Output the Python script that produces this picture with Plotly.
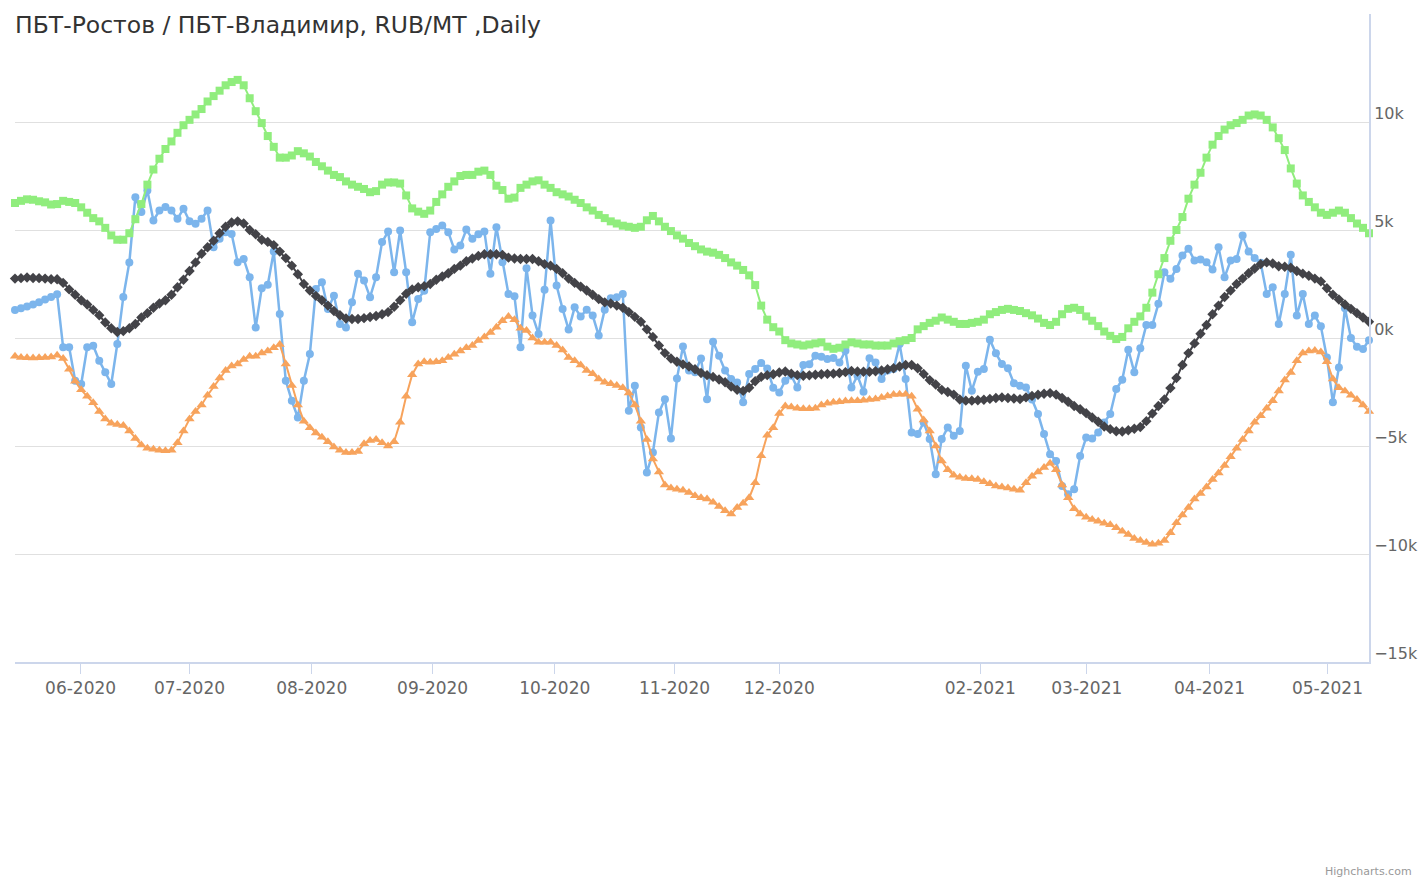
import plotly.graph_objects as go

# Ordinal sample index (trading-day positions along the axis)
month_tick_index = [10.9, 29.0, 49.3, 69.4, 89.7, 109.6, 127.0, 160.4, 178.1, 198.5, 218.1]
month_labels = ["06-2020", "07-2020", "08-2020", "09-2020", "10-2020", "11-2020",
                "12-2020", "02-2021", "03-2021", "04-2021", "05-2021"]

y_tick_vals = [-15, -10, -5, 0, 5, 10, 15]
y_tick_text = ["\u221215k", "\u221210k", "\u22125k", "0k", "5k", "10k", ""]

# Spread, thousand RUB/MT
spread = [
    1.3, 1.38, 1.46, 1.55, 1.65, 1.78, 1.9, 2.02, -0.43, -0.43,
    -1.98, -2.13, -0.43, -0.36, -1.05, -1.59, -2.13, -0.28, 1.9, 3.5,
    6.52, 5.83, 6.83, 5.44, 5.9, 6.06, 5.9, 5.52, 5.98, 5.4,
    5.29, 5.52, 5.9, 4.2, 4.59, 4.9, 4.82, 3.51, 3.66, 2.81,
    0.49, 2.3, 2.46, 4.0, 1.11, -1.98, -2.91, -3.68, -1.98, -0.74,
    2.27, 2.58, 1.34, 1.96, 0.65, 0.49, 1.65, 2.97, 2.66, 1.89,
    2.81, 4.44, 4.93, 3.04, 4.98, 3.04, 0.73, 1.8, 2.19, 4.9,
    5.05, 5.21, 4.9, 4.1, 4.28, 5.02, 4.59, 4.8, 4.93, 2.97,
    5.13, 3.51, 2.04, 1.93, -0.43, 3.23, 1.04, 0.19, 2.23, 5.44,
    2.43, 1.34, 0.39, 1.42, 1.0, 1.31, 1.04, 0.11, 1.31, 1.84,
    1.89, 2.04, -3.37, -2.21, -4.14, -6.23, -5.3, -3.45, -2.83, -4.65,
    -1.87, -0.39, -1.51, -1.59, -0.95, -2.83, -0.17, -0.82, -1.51, -1.9,
    -2.06, -2.98, -1.67, -1.44, -1.16, -1.41, -2.3, -2.52, -1.98, -1.75,
    -2.29, -1.25, -1.21, -0.82, -0.87, -0.97, -0.93, -1.13, -0.59, -2.29,
    -1.75, -2.49, -0.94, -1.13, -1.9, -1.51, -1.44, -0.28, -1.9, -4.37,
    -4.45, -3.91, -4.68, -6.31, -4.68, -4.14, -4.53, -4.3, -1.28, -2.44,
    -1.56, -1.44, -0.08, -0.71, -1.2, -1.4, -2.1, -2.21, -2.29, -2.85,
    -3.52, -4.45, -5.38, -5.69, -6.85, -7.23, -7.0, -5.46, -4.61, -4.65,
    -4.37, -3.91, -3.52, -2.36, -1.93, -0.54, -1.59, -0.48, 0.6, 0.6,
    1.58, 3.04, 2.74, 3.2, 3.82, 4.13, 3.59, 3.64, 3.51, 3.17,
    4.2, 2.81, 3.59, 3.66, 4.74, 4.0, 3.7, 3.48, 2.04, 2.35,
    0.65, 2.04, 3.85, 1.04, 2.04, 0.65, 1.04, 0.54, -0.9, -2.98,
    -1.36, 1.38, 0.0, -0.4, -0.51, -0.1,
]

middle = [
    2.75, 2.77, 2.8, 2.78, 2.77, 2.75, 2.72, 2.72, 2.55, 2.25,
    2.0, 1.75, 1.55, 1.3, 1.05, 0.72, 0.45, 0.28, 0.32, 0.45,
    0.65, 0.95, 1.15, 1.4, 1.6, 1.75, 2.0, 2.35, 2.7, 3.1,
    3.5, 3.9, 4.2, 4.5, 4.85, 5.15, 5.35, 5.4, 5.3, 5.0,
    4.8, 4.55, 4.45, 4.3, 4.0, 3.7, 3.35, 2.95, 2.5, 2.2,
    1.95, 1.75, 1.5, 1.25, 1.05, 0.9, 0.88, 0.88, 0.92, 0.97,
    1.02, 1.1, 1.2, 1.45, 1.75, 2.05, 2.25, 2.35, 2.4, 2.5,
    2.7, 2.85, 3.0, 3.2, 3.35, 3.55, 3.68, 3.8, 3.88, 3.88,
    3.88, 3.85, 3.72, 3.68, 3.66, 3.66, 3.66, 3.55, 3.42, 3.35,
    3.2, 3.0, 2.75, 2.55, 2.38, 2.2, 2.0, 1.8, 1.65, 1.6,
    1.5, 1.4, 1.2, 0.98, 0.75, 0.4, 0.05, -0.35, -0.7, -0.95,
    -1.1, -1.22, -1.32, -1.45, -1.62, -1.72, -1.8, -1.92, -2.05, -2.25,
    -2.4, -2.45, -2.3, -2.0, -1.8, -1.72, -1.68, -1.6, -1.55, -1.65,
    -1.72, -1.75, -1.73, -1.7, -1.68, -1.66, -1.65, -1.62, -1.58, -1.53,
    -1.55, -1.56, -1.56, -1.54, -1.5, -1.45, -1.4, -1.32, -1.25, -1.25,
    -1.4, -1.67, -1.95, -2.15, -2.4, -2.5, -2.62, -2.85, -2.9, -2.9,
    -2.88, -2.86, -2.82, -2.78, -2.75, -2.78, -2.8, -2.83, -2.75, -2.68,
    -2.63, -2.58, -2.55, -2.62, -2.78, -2.95, -3.15, -3.3, -3.48, -3.68,
    -3.88, -4.1, -4.22, -4.32, -4.33, -4.27, -4.2, -4.12, -3.85, -3.5,
    -3.15, -2.85, -2.32, -1.85, -1.25, -0.7, -0.25, 0.2, 0.6, 1.1,
    1.5, 1.9, 2.2, 2.5, 2.75, 3.0, 3.22, 3.42, 3.5, 3.45,
    3.32, 3.3, 3.25, 3.1, 2.98, 2.88, 2.75, 2.62, 2.3, 2.0,
    1.78, 1.55, 1.35, 1.15, 0.95, 0.75,
]

upper = [
    6.25, 6.35, 6.42, 6.4, 6.33, 6.28, 6.18, 6.2, 6.35, 6.3,
    6.25, 6.05, 5.8, 5.55, 5.4, 5.1, 4.75, 4.55, 4.55, 4.85,
    5.5, 6.2, 7.1, 7.8, 8.3, 8.75, 9.1, 9.5, 9.85, 10.1,
    10.35, 10.6, 10.95, 11.2, 11.45, 11.7, 11.85, 11.95, 11.7, 11.1,
    10.5, 9.95, 9.35, 8.85, 8.35, 8.35, 8.45, 8.65, 8.55, 8.4,
    8.15, 7.95, 7.75, 7.55, 7.45, 7.25, 7.1, 7.0, 6.9, 6.75,
    6.8, 7.1, 7.2, 7.2, 7.15, 6.6, 6.0, 5.85, 5.75, 5.9,
    6.3, 6.65, 7.0, 7.25, 7.5, 7.55, 7.55, 7.7, 7.75, 7.55,
    7.05, 6.85, 6.45, 6.5, 6.95, 7.1, 7.25, 7.3, 7.1, 6.95,
    6.75, 6.65, 6.55, 6.4, 6.25, 6.05, 5.9, 5.7, 5.55, 5.4,
    5.3, 5.2, 5.15, 5.1, 5.15, 5.45, 5.65, 5.4, 5.15, 4.95,
    4.75, 4.6, 4.4, 4.25, 4.1, 4.0, 3.95, 3.85, 3.7, 3.5,
    3.35, 3.15, 2.9, 2.45, 1.5, 0.85, 0.5, 0.3, -0.1, -0.25,
    -0.3, -0.35, -0.3, -0.25, -0.2, -0.4, -0.5, -0.45, -0.3, -0.2,
    -0.25, -0.3, -0.3, -0.35, -0.35, -0.35, -0.25, -0.15, -0.1, 0.0,
    0.4, 0.55, 0.7, 0.8, 0.95, 0.85, 0.75, 0.65, 0.65, 0.7,
    0.75, 0.85, 1.1, 1.2, 1.3, 1.35, 1.3, 1.25, 1.15, 1.05,
    0.9, 0.7, 0.6, 0.75, 1.1, 1.35, 1.4, 1.3, 1.0, 0.8,
    0.55, 0.3, 0.1, -0.05, 0.05, 0.45, 0.75, 1.0, 1.4, 2.1,
    2.95, 3.7, 4.5, 5.0, 5.6, 6.45, 7.1, 7.65, 8.35, 8.95,
    9.35, 9.65, 9.85, 9.95, 10.1, 10.3, 10.35, 10.3, 10.1, 9.75,
    9.25, 8.7, 7.85, 7.15, 6.6, 6.3, 6.05, 5.8, 5.7, 5.8,
    5.9, 5.8, 5.55, 5.3, 5.1, 4.85,
]

lower = [
    -0.85, -0.9, -0.92, -0.93, -0.92, -0.9, -0.88, -0.8, -0.95, -1.45,
    -2.0, -2.4, -2.7, -3.0, -3.4, -3.75, -3.95, -4.0, -4.05, -4.3,
    -4.65, -4.95, -5.1, -5.15, -5.2, -5.22, -5.2, -4.85, -4.3, -3.75,
    -3.4, -3.1, -2.65, -2.25, -1.85, -1.5, -1.3, -1.2, -1.0, -0.85,
    -0.85, -0.7, -0.6, -0.45, -0.3, -1.2, -2.2, -3.1, -3.85, -4.15,
    -4.4, -4.6, -4.8, -5.05, -5.2, -5.3, -5.3, -5.25, -4.9, -4.75,
    -4.7, -4.85, -5.0, -4.8, -3.9, -2.7, -1.7, -1.2, -1.1, -1.12,
    -1.1, -1.05, -0.9, -0.75, -0.6, -0.45, -0.35, -0.12, 0.05, 0.25,
    0.5, 0.8, 1.0, 0.85, 0.45, 0.35, 0.0, -0.2, -0.2, -0.2,
    -0.35, -0.55, -0.9, -1.05, -1.25, -1.5, -1.65, -1.9, -2.05, -2.12,
    -2.2, -2.3, -2.55, -3.1, -3.85, -4.7, -5.6, -6.2, -6.8, -6.95,
    -7.0, -7.05, -7.15, -7.3, -7.4, -7.45, -7.6, -7.8, -8.0, -8.15,
    -7.85, -7.65, -7.4, -6.7, -5.45, -4.5, -4.15, -3.5, -3.15, -3.2,
    -3.25, -3.28, -3.28, -3.25, -3.1, -3.02, -2.98, -2.95, -2.92, -2.9,
    -2.9, -2.88, -2.85, -2.82, -2.75, -2.68, -2.62, -2.6, -2.6, -2.7,
    -3.3, -3.8, -4.3, -5.0, -5.7, -6.1, -6.35, -6.45, -6.5, -6.52,
    -6.55, -6.65, -6.75, -6.85, -6.9, -6.95, -7.0, -7.05, -6.7, -6.4,
    -6.2, -6.0, -5.8, -6.1, -6.8, -7.4, -7.9, -8.15, -8.3, -8.4,
    -8.48, -8.58, -8.65, -8.78, -8.95, -9.1, -9.28, -9.38, -9.47, -9.55,
    -9.5, -9.38, -9.02, -8.55, -8.2, -7.85, -7.45, -7.2, -6.9, -6.55,
    -6.25, -5.9, -5.5, -5.1, -4.7, -4.3, -3.9, -3.6, -3.25, -2.9,
    -2.45, -1.95, -1.6, -1.05, -0.7, -0.6, -0.58, -0.65, -1.1, -1.9,
    -2.3, -2.45, -2.65, -2.85, -3.1, -3.4,
]

x_index = list(range(len(spread)))

fig = go.Figure()

fig.add_trace(go.Scatter(
    x=x_index, y=spread, mode="lines+markers", name="Spread",
    line=dict(color="#7cb5ec", width=2.5),
    marker=dict(symbol="circle", size=8, color="#7cb5ec"),
    cliponaxis=False,
))
fig.add_trace(go.Scatter(
    x=x_index, y=middle, mode="lines+markers", name="SMA",
    line=dict(color="#434348", width=2),
    marker=dict(symbol="diamond", size=8, color="#434348"),
    cliponaxis=False,
))
fig.add_trace(go.Scatter(
    x=x_index, y=upper, mode="lines+markers", name="Upper",
    line=dict(color="#90ed7d", width=2),
    marker=dict(symbol="square", size=8, color="#90ed7d"),
    cliponaxis=False,
))
fig.add_trace(go.Scatter(
    x=x_index, y=lower, mode="lines+markers", name="Lower",
    line=dict(color="#f7a35c", width=2),
    marker=dict(symbol="triangle-up", size=9, color="#f7a35c"),
    cliponaxis=False,
))

W, H = 1427, 883
fig.update_layout(
    width=W, height=H,
    margin=dict(l=7, r=66, t=6, b=229, autoexpand=False),
    paper_bgcolor="white", plot_bgcolor="white",
    showlegend=False,
    font=dict(family="DejaVu Sans", color="#666666"),
    title=dict(
        text="ПБТ-Ростов / ПБТ-Владимир, RUB/MT ,Daily",
        x=0, xref="paper", xanchor="left",
        y=1 - 17 / H, yref="container", yanchor="middle",
        font=dict(family="DejaVu Sans", size=23.5, color="#333333"),
    ),
    xaxis=dict(
        range=[0, len(spread) - 1],
        tickmode="array", tickvals=month_tick_index, ticktext=month_labels,
        ticks="outside", ticklen=10, tickwidth=1, tickcolor="#ccd6eb",
        showline=True, linecolor="#ccd6eb", linewidth=2,
        showgrid=False, zeroline=False,
        tickfont=dict(size=17, color="#666666"),
    ),
    yaxis=dict(
        side="right", range=[-15, 15],
        tickmode="array", tickvals=y_tick_vals, ticktext=y_tick_text,
        ticks="", showline=True, linecolor="#ccd6eb", linewidth=2,
        gridcolor="#e0e0e0", gridwidth=1, zeroline=False,
        ticklabelposition="outside", ticklabelshift=-9,
        tickfont=dict(size=16, color="#666666"),
    ),
)

fig.add_annotation(
    text="Highcharts.com", xref="paper", yref="paper",
    x=(1406 - 7) / 1354, y=(654 - 863) / 648,
    xanchor="right", yanchor="middle", showarrow=False,
    font=dict(family="DejaVu Sans", size=11, color="#999999"),
)

fig.write_html("out.html")
